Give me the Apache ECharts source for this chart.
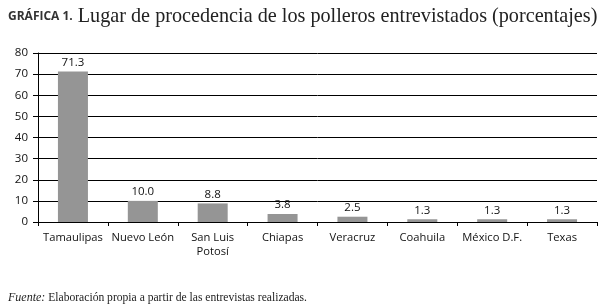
<!DOCTYPE html>
<html>
<head>
<meta charset="utf-8">
<script src="https://cdn.jsdelivr.net/npm/echarts@6/dist/echarts.min.js"></script>
<style>
  html, body { margin: 0; padding: 0; background: #fff; }
  #chart { width: 605px; height: 308px; }
</style>
</head>
<body>
<div id="chart"></div>
<script>
const categories = ['Tamaulipas', 'Nuevo León', 'San Luis\nPotosí', 'Chiapas', 'Veracruz', 'Coahuila', 'México D.F.', 'Texas'];
const values = [71.3, 10.0, 8.8, 3.8, 2.5, 1.3, 1.3, 1.3];
const yTicks = [0, 10, 20, 30, 40, 50, 60, 70, 80];

var dom = document.getElementById('chart');
var myChart = echarts.init(dom, null, { renderer: 'canvas' });

var option = {
  animation: false,
  title: [
    {
      left: 3,
      top: 2,
      text: '{a|GRÁFICA 1.} {b|Lugar de procedencia de los polleros entrevistados (porcentajes)}',
      textStyle: {
        fontWeight: 'normal',
        rich: {
          a: { fontFamily: 'Open Sans', fontWeight: 'bold', fontSize: 12, color: '#333' },
          b: { fontFamily: 'Liberation Serif', fontWeight: 'normal', fontSize: 20.2, color: '#222' }
        }
      }
    },
    {
      left: 3,
      top: 287,
      text: '{i|Fuente:}{r| Elaboración propia a partir de las entrevistas realizadas.}',
      textStyle: {
        fontWeight: 'normal',
        rich: {
          i: { fontFamily: 'Liberation Serif', fontStyle: 'italic', fontWeight: 'normal', fontSize: 12, color: '#222' },
          r: { fontFamily: 'Liberation Serif', fontWeight: 'normal', fontSize: 11.6, color: '#222' }
        }
      }
    }
  ],
  grid: { left: 38, right: 8, top: 53, bottom: 86, containLabel: false },
  xAxis: {
    type: 'category',
    data: categories,
    axisLine: { lineStyle: { color: '#000', width: 1 } },
    axisTick: { show: true, length: 4, lineStyle: { color: '#000' } },
    axisLabel: { color: '#111', fontFamily: 'Open Sans', fontSize: 11.2, margin: 9, lineHeight: 14, interval: 0 }
  },
  yAxis: {
    type: 'value',
    min: 0,
    max: 80,
    interval: 10,
    axisLine: { show: true, lineStyle: { color: '#000', width: 1 } },
    axisTick: { show: true, length: 5, lineStyle: { color: '#000' } },
    axisLabel: {
      color: '#111', fontFamily: 'Open Sans', fontSize: 11.5, margin: 10,
      formatter: function (v) { return yTicks.indexOf(v) >= 0 ? String(v) : ''; }
    },
    splitLine: { show: true, lineStyle: { color: '#000', width: 1 } }
  },
  series: [
    {
      type: 'bar',
      data: values,
      barWidth: 30,
      itemStyle: { color: '#959595' },
      label: {
        show: true,
        position: 'top',
        distance: 3,
        color: '#111',
        fontFamily: 'Open Sans',
        fontSize: 11.5,
        formatter: function (p) { return p.value.toFixed(1); }
      }
    }
  ]
};

myChart.setOption(option);
</script>
</body>
</html>
